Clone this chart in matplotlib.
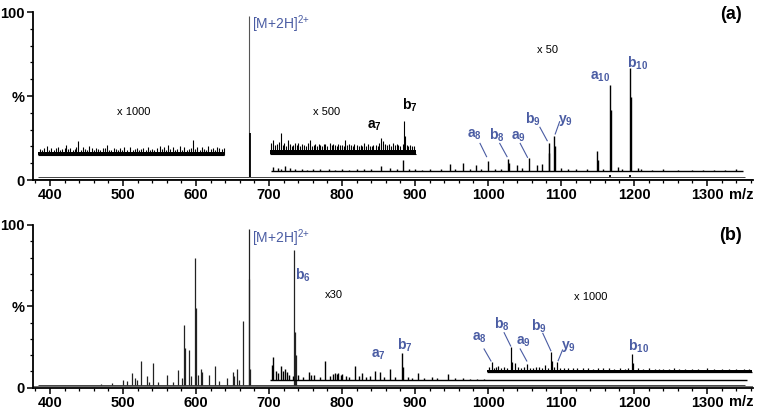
import matplotlib
matplotlib.use("Agg")
import matplotlib.pyplot as plt
from matplotlib.ticker import MultipleLocator, FixedLocator, FixedFormatter

plt.rcParams['font.family'] = ['Liberation Sans', 'DejaVu Sans']
plt.rcParams['mathtext.fontset'] = 'custom'
plt.rcParams['mathtext.rm'] = 'Liberation Sans'
plt.rcParams['mathtext.bf'] = 'Liberation Sans:bold'

BLUE = '#4a5ca3'

# ---------------- panel (a) ----------------
# raw spectrum (x1)
a_raw_base = 2.0
a_raw_mz = [672.6, 673.5, 1167, 1195]
a_raw_int = [97.6, 28.0, 3.0, 3.2]

# x1000 zoomed trace, 384-639
a_k_range = [384, 639]
a_k_base, a_k_top = 14.9, 16.6
a_k_mz = [386, 389, 392, 395.5, 399, 402, 405, 408, 411, 414, 417, 420, 422, 425, 428, 431,
          434, 436, 438.8, 442, 445, 448, 451, 453.8, 457, 460, 463, 466, 469, 472, 475,
          477.7, 481, 484, 487, 490, 493, 496, 499, 502, 505, 509.6, 513, 516, 519, 522,
          525, 528, 531, 534, 537, 540, 543, 546, 550.7, 553, 556, 559, 562, 565, 568,
          571, 574, 578, 581, 584, 587, 590, 593, 596.3, 599, 602, 605, 608, 611, 614,
          616.8, 620, 623, 626, 629, 632, 635, 638]
a_k_int = [18.5, 17.8, 19.2, 20.2, 18.0, 19.0, 17.6, 18.8, 19.5, 17.9, 18.4, 19.0, 21.0, 18.2,
           19.2, 17.8, 18.6, 19.4, 23.0, 18.0, 19.5, 18.3, 17.7, 20.2, 18.9, 17.6, 19.0, 18.2,
           17.8, 18.8, 19.1, 20.6, 18.0, 17.7, 19.0, 18.4, 17.6, 18.8, 17.9, 19.4, 18.1, 19.6,
           17.8, 18.6, 19.0, 17.7, 18.2, 18.9, 17.6, 19.5, 18.0, 18.6, 17.9, 19.2, 20.4, 18.2,
           19.8, 17.9, 21.0, 18.4, 19.6, 17.8, 18.7, 20.2, 18.1, 19.4, 17.9, 18.6, 19.2,
           24.0, 18.3, 19.5, 17.8, 19.8, 18.5, 17.9, 20.2, 18.4, 19.3, 17.8, 19.6, 19.0,
           18.2, 18.8]

# x500 zoomed trace, 701-901
a_h_range = [701, 901]
a_h_base, a_h_top = 15.3, 17.6
a_h_mz = [702.5, 705.6, 708, 711, 713.5, 717, 719, 721, 723.5, 726, 729, 731, 733, 736, 738,
          740, 743, 745, 748, 750, 753, 756, 759, 761, 763, 766, 768, 770, 773, 775, 777, 780,
          783, 786, 788, 790, 793, 795, 797, 800, 802, 804, 807, 809, 812, 815, 817, 820, 823,
          826, 828, 830, 833, 835, 838, 841, 843, 846, 849, 851, 854, 856, 859, 862, 864, 867,
          870, 873, 875, 877, 880, 883, 885, 886, 889, 891, 893, 896, 898]
a_h_int = [22.0, 24.0, 21.0, 21.5, 22.5, 27.8, 21.0, 22.0, 20.5, 23.8, 21.2, 20.4, 21.0, 22.2,
           20.6, 22.0, 20.2, 21.4, 21.0, 20.3, 21.8, 23.8, 20.4, 21.0, 21.2, 20.0, 21.6, 20.8,
           20.2, 21.3, 21.6, 20.4, 22.0, 20.6, 21.4, 21.0, 20.2, 21.5, 20.7, 21.0, 20.3, 23.8,
           20.6, 21.2, 21.0, 20.2, 21.6, 20.6, 20.2, 21.0, 20.4, 22.0, 20.3, 21.2, 20.5, 20.1,
           21.0, 21.0, 20.4, 21.8, 24.8, 23.0, 21.4, 20.8, 21.6, 20.5, 22.0, 20.6, 21.2, 21.0,
           20.4, 21.2, 35.3, 26.0, 20.6, 20.2, 21.0, 20.4, 20.0]

# x50 zoomed trace, 703-1349
a_f_range = [703, 1349]
a_f_base = 5.2
a_f_mz = [706, 712, 716, 722, 728.8, 735, 745, 752, 760, 770, 782, 790, 800, 810, 820, 830, 840,
          854, 866, 875, 884, 892, 900, 910, 920, 935, 948, 955, 965.4, 975, 983, 990, 1000.4,
          1010, 1018, 1027.9, 1029, 1039, 1046, 1056, 1066.7, 1074, 1083, 1084, 1090.4, 1091.5,
          1100, 1110, 1120, 1135, 1149.8, 1151, 1158, 1167, 1168, 1178, 1183, 1194.5, 1195.5,
          1205, 1210, 1225, 1240, 1260, 1280, 1295, 1310, 1325, 1340]
a_f_int = [7.5, 7.0, 6.4, 8.5, 7.0, 6.4, 6.5, 6.2, 6.8, 6.3, 6.6, 6.2, 6.5, 6.2, 6.8, 6.3, 6.6,
           8.3, 7.0, 6.4, 11.9, 6.3, 6.8, 6.2, 6.6, 6.4, 9.5, 6.4, 9.9, 6.5, 8.9, 6.5, 11.5,
           6.8, 6.6, 12.3, 10.0, 9.0, 7.0, 12.9, 9.0, 9.5, 21.8, 16.0, 26.4, 20.0,
           7.2, 6.6, 6.5, 6.4, 17.5, 12.0, 6.8, 56.5, 41.7, 8.0, 6.8, 66.5, 49.6,
           7.0, 6.8, 6.2, 6.4, 6.0, 6.2, 5.9, 6.0, 5.8, 6.5]

# ---------------- panel (b) ----------------
b_raw_base = 1.5
b_raw_mz = [470, 485, 500, 505, 512.8, 516.4, 519, 524.2, 532.9, 536, 541.5, 548, 559.8, 568,
            575, 580.4, 584, 585.4, 590, 593, 598.6, 599.5, 603, 606.8, 608.7, 617.4, 626,
            631, 642, 650, 652, 656.6, 659, 664, 672.2, 673, 674, 734.2, 735.2, 736.6]
b_raw_int = [2.5, 2.8, 4.7, 4.0, 8.8, 6.0, 4.5, 16.6, 7.2, 3.5, 15.4, 3.5, 7.8, 3.8,
             10.9, 5.7, 38.5, 24.6, 23.2, 7.0, 80.0, 48.8, 7.8, 11.5, 9.9, 7.8, 13.5,
             4.0, 5.7, 9.9, 7.0, 11.3, 5.0, 41.0, 97.5, 66.8, 11.6, 84.6, 34.4, 20.0]

# x30 zoomed trace, 702-1355
b_t_range = [702, 1355]
b_t_base = 4.8
b_t_mz = [704, 706, 709, 712, 717, 719, 722, 724.2, 728, 733, 740, 746, 754.8, 757, 762, 770,
          776.7, 784, 788, 790, 793, 795, 798, 800, 805, 810, 817.8, 823, 828, 833, 838, 845,
          852, 858, 865.8, 872, 881.8, 883.1, 890, 896, 904.6, 912, 922.8, 930, 945.7, 955,
          965.8, 975, 985, 995]
b_t_int = [14.0, 18.7, 10.0, 9.0, 13.6, 10.5, 11.3, 9.8, 8.0, 7.0, 8.0, 6.8, 9.8, 8.0, 7.5, 6.8,
           16.6, 7.0, 8.6, 9.0, 8.2, 9.2, 7.6, 8.5, 7.4, 6.8, 13.3, 7.0, 8.8, 6.8, 7.2, 10.0,
           9.8, 6.8, 11.3, 6.5, 21.5, 13.0, 6.6, 6.2, 8.8, 6.0, 6.4, 5.9, 8.4, 5.8,
           5.7, 5.6, 5.6, 5.5]

# x1000 zoomed trace, 998-1361
b_k_range = [998, 1361]
b_k_base, b_k_top = 9.8, 10.8
b_k_mz = [1001, 1005, 1008, 1011, 1014, 1018, 1022, 1026, 1031, 1032.4, 1037, 1041, 1045, 1049,
          1053, 1057, 1062, 1066, 1070, 1074, 1078, 1082, 1086, 1088, 1091, 1095, 1099, 1104,
          1110, 1116, 1122, 1130, 1137, 1144, 1150, 1157, 1165, 1172, 1180.8, 1188, 1192,
          1197.7, 1199, 1205, 1212, 1220, 1228, 1234, 1240, 1248, 1255, 1262, 1270, 1280,
          1288, 1300, 1310, 1320, 1330, 1340, 1350, 1358]
b_k_int = [12.5, 15.6, 12.2, 12.8, 13.5, 12.0, 12.6, 12.4, 25.2, 16.0, 15.0, 12.8, 12.2, 12.6,
           14.3, 12.4, 12.0, 12.6, 12.5, 12.2, 13.7, 12.4, 22.1, 16.6, 12.8, 15.6, 12.2, 12.0,
           12.0, 11.8, 12.1, 11.8, 12.0, 11.7, 12.0, 11.8, 12.2, 11.7, 11.9, 11.6, 12.0,
           20.7, 15.0, 11.9, 11.6, 11.8, 11.5, 11.7, 11.6, 11.4, 12.0, 11.5, 11.6, 11.5,
           11.4, 11.8, 11.4, 11.5, 11.5, 11.3, 11.4, 11.3]

# ion labels: (text, x, y), optional leader line (x0, y0, x1, y1)
a_ions = [(r'$\mathbf{a_{8}}$', 982, 26.8, (989, 21.8, 998, 13.9)),
          (r'$\mathbf{b_{8}}$', 1012, 26.8, (1016, 21.8, 1026, 13.9)),
          (r'$\mathbf{a_{9}}$', 1042, 25.8, (1044, 21.8, 1054, 13.5)),
          (r'$\mathbf{b_{9}}$', 1061, 36.3, (1071, 31.4, 1081, 23.4)),
          (r'$\mathbf{y_{9}}$', 1106, 35.7, (1098, 34.7, 1092, 27.4)),
          (r'$\mathbf{a_{10}}$', 1153, 61.5, None),
          (r'$\mathbf{b_{10}}$', 1205, 69.5, None)]
b_ions = [(r'$\mathbf{b_{6}}$', 747, 69.3, None),
          (r'$\mathbf{a_{7}}$', 850, 20.0, None),
          (r'$\mathbf{b_{7}}$', 886, 26.0, None),
          (r'$\mathbf{a_{8}}$', 988, 30.4, (994.5, 23.8, 1004, 16.4)),
          (r'$\mathbf{b_{8}}$', 1019, 39.0, (1022, 33.8, 1031, 25.6)),
          (r'$\mathbf{a_{9}}$', 1048, 28.3, (1044, 23.8, 1053, 16.4)),
          (r'$\mathbf{b_{9}}$', 1070, 37.5, (1075, 33.4, 1086, 22.7)),
          (r'$\mathbf{y_{9}}$', 1110, 25.2, (1102, 23.2, 1096, 16.6)),
          (r'$\mathbf{b_{10}}$', 1206, 25.2, None)]

x_ticks = [400, 500, 600, 700, 800, 900, 1000, 1100, 1200, 1300]


def trace(ax, rng, base, mz, inten, top=None, lw=1.1, color='k'):
    ax.hlines(base, rng[0], rng[1], color=color, lw=lw)
    if top is not None:
        ax.fill_between(rng, [base, base], [top, top], color=color, lw=0)
    ax.vlines(mz, base, inten, color=color, lw=lw)


def style_axes(ax):
    ax.set_xlim(376.7, 1363)
    ax.set_ylim(0, 100)
    for s in ['top', 'right']:
        ax.spines[s].set_visible(False)
    ax.spines['left'].set_linewidth(1.3)
    ax.spines['bottom'].set_linewidth(1.3)
    ax.xaxis.set_major_locator(FixedLocator(x_ticks))
    ax.xaxis.set_minor_locator(MultipleLocator(20))
    ax.yaxis.set_major_locator(FixedLocator([0, 50, 100]))
    ax.yaxis.set_major_formatter(FixedFormatter(['0', '%', '100']))
    ax.yaxis.set_minor_locator(MultipleLocator(10))
    ax.tick_params(which='major', length=4, width=1.1, labelsize=10.5, pad=2)
    ax.tick_params(which='minor', length=2.5, width=0.9)
    for lab in ax.get_xticklabels() + ax.get_yticklabels():
        lab.set_fontweight('bold')
    ax.text(1.0, -0.045, 'm/z', transform=ax.transAxes, ha='right', va='top',
            fontsize=10.5, fontweight='bold')
    ax.axhline(0.9, color='#555555', lw=0.6)


def ions(ax, items):
    for txt, x, y, line in items:
        ax.text(x, y, txt, color=BLUE, fontsize=10, ha='center', va='center')
        if line:
            ax.plot([line[0], line[2]], [line[1], line[3]], color=BLUE, lw=0.8)


fig = plt.figure(figsize=(7.62, 4.11), dpi=100)
ax1 = fig.add_axes([0.0433, 0.562, 0.945, 0.4088])
ax2 = fig.add_axes([0.0433, 0.0567, 0.945, 0.3959])

# panel (a)
ax1.hlines(a_raw_base, 384, 1352, color='#444444', lw=0.7)
ax1.vlines(a_raw_mz[:1], a_raw_base, a_raw_int[:1], color='#555555', lw=0.8)
ax1.vlines(a_raw_mz[1:], a_raw_base, a_raw_int[1:], color='k', lw=1.3)
trace(ax1, a_k_range, a_k_base, a_k_mz, a_k_int, top=a_k_top, lw=0.8)
trace(ax1, a_h_range, a_h_base, a_h_mz, a_h_int, top=a_h_top, lw=0.8)
trace(ax1, a_f_range, a_f_base, a_f_mz, a_f_int, lw=1.0)
ax1.text(677, 93, r'[M+2H]$^{\mathrm{2{+}}}$', color=BLUE, fontsize=10, ha='left', va='center')
ax1.text(514, 40.5, 'x 1000', fontsize=8, ha='center', va='center')
ax1.text(779, 40.5, 'x 500', fontsize=8, ha='center', va='center')
ax1.text(1081, 77.4, 'x 50', fontsize=8, ha='center', va='center')
ax1.text(845, 32, r'$\mathbf{a_{7}}$', fontsize=10, ha='center', va='center')
ax1.text(893, 44.6, r'$\mathbf{b_{7}}$', fontsize=10, ha='center', va='center')
ions(ax1, a_ions)
ax1.text(0.985, 0.985, '(a)', transform=ax1.transAxes, fontsize=13, fontweight='bold',
         ha='right', va='center')
style_axes(ax1)

# panel (b)
ax2.hlines(b_raw_base, 384, 1352, color='#444444', lw=0.7)
ax2.vlines(b_raw_mz, b_raw_base, b_raw_int, color='#222222', lw=0.9)
trace(ax2, b_t_range, b_t_base, b_t_mz, b_t_int, lw=1.0)
trace(ax2, b_k_range, b_k_base, b_k_mz, b_k_int, top=b_k_top, lw=0.9)
ax2.text(677, 91.8, r'[M+2H]$^{\mathrm{2{+}}}$', color=BLUE, fontsize=10, ha='left', va='center')
ax2.text(789, 57, 'x30', fontsize=8, ha='center', va='center')
ax2.text(1141, 56, 'x 1000', fontsize=8, ha='center', va='center')
ions(ax2, b_ions)
ax2.text(0.985, 0.935, '(b)', transform=ax2.transAxes, fontsize=13, fontweight='bold',
         ha='right', va='center')
style_axes(ax2)

fig.savefig('out.png', dpi=100)
